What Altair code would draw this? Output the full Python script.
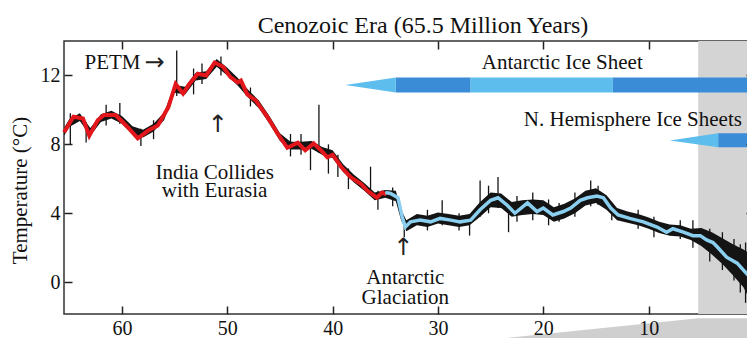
import altair as alt
import pandas as pd

F = "Liberation Serif"
FA = "DejaVu Sans"

# ---- smoothed curves (age in Ma, temperature in °C) ----
red_age = [65.5, 65.3, 64.6, 63.7, 63.1, 62.3, 61.7, 60.6, 60.1, 59.3, 58.5, 57.5, 56.6, 55.6,
           54.9, 54.2, 53.6, 52.8, 52.0, 51.2, 50.4, 49.7, 49.0, 48.7, 48.1, 47.3, 46.2, 45.2,
           44.3, 43.3, 42.6, 41.8, 41.1, 40.5, 40.0, 39.2, 38.3, 37.3, 36.7, 35.8, 35.3, 34.9]
red_temp = [8.7, 8.9, 9.6, 9.5, 8.5, 9.4, 9.7, 9.7, 9.4, 8.9, 8.35, 8.8, 9.1, 10.15,
            11.5, 10.95, 11.5, 12.1, 12.0, 12.75, 12.5, 11.9, 11.6, 11.7, 10.9, 10.55, 9.6, 8.6,
            7.8, 8.1, 7.65, 8.05, 7.65, 7.25, 7.4, 6.7, 6.1, 5.7, 5.3, 4.9, 5.2, 5.1]

blue_age = [35.0, 34.5, 33.8, 33.4, 33.1, 32.6, 31.7, 30.7, 29.8, 28.8, 27.9, 26.9, 26.0, 25.0,
            24.3, 23.4, 22.7, 21.5, 20.6, 20.0, 19.1, 18.1, 17.4, 16.5, 15.8, 14.9, 14.3, 13.6,
            12.9, 11.8, 10.5, 9.2, 8.3, 7.7, 6.7, 5.8, 5.1, 4.5, 3.9, 3.5, 2.6, 1.6, 1.0, 0.4, 0.0]
blue_temp = [5.2, 5.15, 4.9, 3.8, 3.2, 3.5, 3.6, 3.5, 3.7, 3.6, 3.5, 3.6, 4.2, 4.75,
             4.9, 4.45, 4.0, 4.6, 4.1, 4.3, 3.9, 4.1, 4.3, 4.75, 4.9, 5.0, 4.9, 4.3,
             3.9, 3.7, 3.5, 3.2, 2.9, 3.1, 2.9, 2.7, 2.7, 2.45, 2.3, 2.05, 1.45, 1.1, 0.7, 0.3, 0.2]

# ---- raw-data envelope (black band) ----
env_age = [65.5, 65, 64, 63, 62, 61, 60, 59, 58, 57, 56,
           55, 54, 53, 52, 51, 50, 49, 48, 47, 46, 45, 44, 43, 42, 41, 40, 39, 38, 37, 36, 35,
           34, 33.5, 33,
           32, 31, 30, 29, 28, 27, 26, 25, 24, 23, 22, 21, 20, 19, 18, 17, 16, 15, 14, 13,
           12, 11, 10, 9, 8, 7, 6, 5, 4, 3, 2, 1, 0.5, 0]
env_lo = [8.5, 9.0, 9.35, 8.5, 9.3, 9.5, 9.2, 8.6, 8.4, 8.75, 9.4,
          11.0, 10.9, 11.7, 11.8, 12.5, 12.0, 11.4, 10.7, 10.1, 9.2, 8.2, 7.7, 7.7, 7.75, 7.4, 7.2, 6.4, 5.8, 5.3, 4.75, 4.9,
          4.7, 3.6, 2.95,
          3.3, 3.2, 3.4, 3.3, 3.2, 3.3, 3.8, 4.35, 4.3, 3.8, 3.9, 3.95, 3.9, 3.5, 3.7, 4.0, 4.45, 4.6, 4.2, 3.6,
          3.45, 3.3, 3.1, 2.85, 2.7, 2.65, 2.45, 2.1, 1.6, 1.05, 0.4, -0.3, -0.9, -1.4]
env_hi = [8.95, 9.45, 9.8, 8.95, 9.75, 9.95, 9.65, 9.05, 8.85, 9.2, 9.85,
          11.45, 11.35, 12.15, 12.25, 12.95, 12.45, 11.85, 11.15, 10.55, 9.65, 8.65, 8.15, 8.15, 8.2, 7.85, 7.65, 6.85, 6.25, 5.75, 5.2, 5.35,
          5.3, 4.2, 3.6,
          3.95, 3.85, 4.05, 3.95, 3.85, 3.95, 4.65, 5.2, 5.15, 4.65, 4.75, 4.8, 4.75, 4.35, 4.55, 4.85, 5.3, 5.45, 5.05, 4.3,
          4.1, 3.95, 3.75, 3.5, 3.35, 3.3, 3.1, 3.15, 2.9, 2.55, 2.2, 1.9, 1.7, 1.6]

# ---- individual spikes in the raw data ----
spike_age = [64.9, 63.4, 61.5, 60.2, 58.2, 57.0, 54.8, 53.2, 52.4, 50.6, 47.8, 44.0, 43.0, 42.1,
             41.3, 40.4, 39.5, 38.5, 36.4, 35.7, 34.3, 33.2, 31.0, 29.6, 28.0, 27.0, 26.0, 25.2,
             24.3, 23.3, 22.5, 21.0, 19.5, 18.5, 17.0, 15.5, 14.8, 13.5, 11.0, 9.5, 7.0, 5.8,
             4.2, 3.0, 1.9, 1.3, 0.8, 0.2]
spike_lo = [8.0, 8.1, 9.1, 9.2, 7.9, 8.3, 10.8, 10.9, 11.5, 12.0, 10.2, 7.3, 7.4, 6.5,
            7.5, 6.3, 6.1, 5.4, 5.2, 4.2, 4.4, 2.6, 3.0, 3.3, 3.0, 2.7, 3.8, 4.0,
            4.3, 2.9, 3.5, 3.6, 3.3, 3.5, 3.8, 4.4, 4.5, 3.6, 3.1, 2.6, 2.5, 2.0,
            1.2, 0.7, 0.1, -0.6, -1.2, -1.5]
spike_hi = [9.8, 9.3, 10.3, 10.4, 8.9, 9.4, 13.45, 12.4, 12.7, 13.1, 11.3, 8.6, 8.6, 8.2,
            10.3, 8.0, 7.4, 6.6, 6.7, 5.3, 5.5, 3.5, 4.2, 4.75, 4.0, 3.8, 5.9, 5.6,
            6.1, 4.5, 5.0, 5.2, 4.8, 4.6, 5.2, 5.9, 5.6, 4.6, 4.2, 3.8, 3.6, 3.6,
            3.1, 2.9, 2.5, 2.2, 2.3, 1.9]

# ---- ice sheets ----
ice_start = [34.0, 26.9, 13.4, 3.4]
ice_end = [26.9, 13.4, 0.0, 0.0]
ice_lo = [11.01, 11.01, 11.01, 7.83]
ice_hi = [11.88, 11.88, 11.88, 8.64]
ice_shade = ["dark", "light", "dark", "dark"]
taper_group = ["ant", "ant", "nh", "nh"]
taper_age = [38.8, 34.0, 8.0, 3.4]
taper_lo = [11.45, 11.01, 8.23, 7.83]
taper_hi = [11.45, 11.88, 8.23, 8.64]

# ---- shaded last 5.3 Ma and zoom wedge ----
shade_start, shade_end = 5.3, 0.0
wedge_age = [30.7, 5.3, 0.0]
wedge_lo = [-3.7, -3.7, -3.7]
wedge_hi = [-3.7, -2.09, -2.09]

# ---- annotations ----
ann_text = ["PETM", "India Collides", "with Eurasia", "Antarctic", "Glaciation",
            "Antarctic Ice Sheet", "N. Hemisphere Ice Sheets"]
ann_age = [60.9, 51.2, 51.2, 33.1, 33.1, 18.2, 11.5]
ann_temp = [12.7, 6.32, 5.28, 0.25, -0.95, 12.75, 9.4]
arrow_text = ["→", "↑", "↑"]
arrow_age = [56.9, 50.9, 33.3]
arrow_temp = [12.75, 9.1, 1.97]

LIGHT = "#5dbdec"
DARK = "#3b8cd6"

xs = alt.Scale(domain=[0, 65.5], reverse=True, nice=False, zero=False)
ys = alt.Scale(domain=[-1.85, 14], nice=False, zero=False)

ax_bottom = alt.Axis(orient="bottom", values=[60, 50, 40, 30, 20, 10, 0], offset=-8, tickSize=8,
                     tickWidth=1.5, tickColor="#222", domain=False, grid=False, labelFont=F,
                     labelFontSize=20, labelColor="#111", labelPadding=4, labelFlush=False,
                     labelOverlap=False, title=None, zindex=1)
ax_top = alt.Axis(orient="top", values=[60, 50, 40, 30, 20, 10], offset=-8, tickSize=8,
                  tickWidth=1.5, tickColor="#222", domain=False, grid=False, labels=False,
                  title=None, zindex=1)
ax_left = alt.Axis(orient="left", values=[0, 4, 8, 12], offset=-8, tickSize=8, tickWidth=1.5,
                   tickColor="#222", domain=False, grid=False, labelFont=F, labelFontSize=20,
                   labelColor="#111", labelPadding=4, title="Temperature (°C)", titleFont=F,
                   titleFontSize=21, titleFontWeight="normal", titleColor="#111",
                   titlePadding=10, titleY=149, zindex=1)
ax_right = alt.Axis(orient="right", values=[4, 8, 12], offset=-8, tickSize=8, tickWidth=1.5,
                    tickColor="#222", domain=False, grid=False, labels=False, title=None,
                    zindex=1)

shade = alt.Chart(pd.DataFrame({"a": [shade_start], "b": [shade_end],
                                "lo": [-1.85], "hi": [14.0]})).mark_rect(color="#d4d4d4").encode(
    x=alt.X("a:Q", scale=xs, axis=ax_bottom), x2="b:Q",
    y=alt.Y("lo:Q", scale=ys, axis=ax_left), y2="hi:Q")

wedge = alt.Chart(pd.DataFrame({"age": wedge_age, "lo": wedge_lo, "hi": wedge_hi})).mark_area(
    color="#cfcfcf", clip=False).encode(
    x=alt.X("age:Q", scale=xs, axis=None), y=alt.Y("lo:Q", scale=ys, axis=None), y2="hi:Q")

ice = alt.Chart(pd.DataFrame({"a": ice_start, "b": ice_end, "lo": ice_lo, "hi": ice_hi,
                              "shade": ice_shade})).mark_rect().encode(
    x=alt.X("a:Q", scale=xs, axis=None), x2="b:Q",
    y=alt.Y("lo:Q", scale=ys, axis=None), y2="hi:Q",
    color=alt.Color("shade:N", scale=alt.Scale(domain=["light", "dark"], range=[LIGHT, DARK]),
                    legend=None))

taper = alt.Chart(pd.DataFrame({"g": taper_group, "age": taper_age, "lo": taper_lo,
                                "hi": taper_hi})).mark_area(color=LIGHT).encode(
    x=alt.X("age:Q", scale=xs, axis=None), y=alt.Y("lo:Q", scale=ys, axis=None), y2="hi:Q",
    detail="g:N")

env = alt.Chart(pd.DataFrame({"age": env_age, "lo": env_lo, "hi": env_hi})).mark_area(
    color="#141414").encode(
    x=alt.X("age:Q", scale=xs, axis=ax_top), y=alt.Y("lo:Q", scale=ys, axis=ax_right), y2="hi:Q")

spikes = alt.Chart(pd.DataFrame({"age": spike_age, "lo": spike_lo, "hi": spike_hi})).mark_rule(
    color="#141414", strokeWidth=1.3).encode(
    x=alt.X("age:Q", scale=xs, axis=None), y=alt.Y("lo:Q", scale=ys, axis=None), y2="hi:Q")

red = alt.Chart(pd.DataFrame({"age": red_age, "t": red_temp})).mark_line(
    color="#e3161b", strokeWidth=4).encode(
    x=alt.X("age:Q", scale=xs, axis=None), y=alt.Y("t:Q", scale=ys, axis=None), order="age:Q")

blue = alt.Chart(pd.DataFrame({"age": blue_age, "t": blue_temp})).mark_line(
    color="#8bcff0", strokeWidth=3.5).encode(
    x=alt.X("age:Q", scale=xs, axis=None), y=alt.Y("t:Q", scale=ys, axis=None), order="age:Q")

ann = alt.Chart(pd.DataFrame({"age": ann_age, "t": ann_temp, "txt": ann_text})).mark_text(
    font=F, fontSize=21, color="#111", align="center", baseline="middle").encode(
    x=alt.X("age:Q", scale=xs, axis=None), y=alt.Y("t:Q", scale=ys, axis=None), text="txt:N")

arrows = alt.Chart(pd.DataFrame({"age": arrow_age, "t": arrow_temp, "txt": arrow_text})).mark_text(
    font=FA, fontSize=24, color="#222", align="center", baseline="middle").encode(
    x=alt.X("age:Q", scale=xs, axis=None), y=alt.Y("t:Q", scale=ys, axis=None), text="txt:N")

# svg must stay 739 px wide (page width minus margins) so it is not shrunk;
# the plot runs past the right edge and is cut there, as in the reference
chart = alt.layer(shade, wedge, ice, taper, env, spikes, red, blue, ann, arrows).properties(
    width=690, height=273,
    padding={"left": 56, "top": 33, "right": -7, "bottom": 24},
    autosize=alt.AutoSizeParams(type="none"),
    title=alt.TitleParams("Cenozoic Era (65.5 Million Years)", font=F, fontSize=24,
                          fontWeight="normal", color="#111", anchor="middle", dx=14, dy=30,
                          baseline="alphabetic", offset=13, frame="group"),
).resolve_axis(x="independent", y="independent").configure_view(
    stroke="#333", strokeWidth=1.5)

chart.save("out.html", embed_options={"renderer": "svg", "actions": False})
